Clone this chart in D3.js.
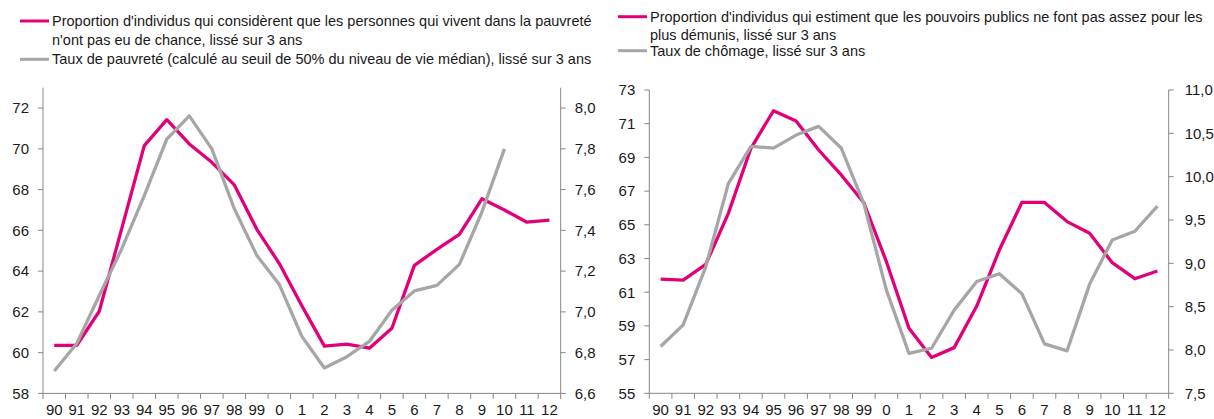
<!DOCTYPE html>
<html>
<head>
<meta charset="utf-8">
<script src="https://cdn.jsdelivr.net/npm/d3@7"></script>
<style>
  body { margin: 0; background: #fff; }
  svg { display: block; font-family: "Liberation Sans", Arial, sans-serif; }
</style>
</head>
<body>
<svg id="chart" width="1214" height="419"></svg>
<script>
const years = ["90", "91", "92", "93", "94", "95", "96", "97", "98", "99", "0", "1", "2", "3", "4", "5", "6", "7", "8", "9", "10", "11", "12"];

// left panel
const chanceShare = [60.36, 60.36, 62.03, 66.1, 70.16, 71.43, 70.24, 69.34, 68.23, 66.05, 64.37, 62.3, 60.32, 60.42, 60.22, 61.2, 64.28, 65.07, 65.8, 67.55, 67.0, 66.4, 66.5];
const povertyRate = [6.71, 6.845, 7.08, 7.31, 7.57, 7.848, 7.962, 7.80, 7.506, 7.277, 7.134, 6.88, 6.725, 6.78, 6.855, 7.008, 7.103, 7.13, 7.233, 7.49, 7.80, null, null];
const leftTicksA = [58, 60, 62, 64, 66, 68, 70, 72];
const leftTicksB = [6.6, 6.8, 7.0, 7.2, 7.4, 7.6, 7.8, 8.0];
const leftLegend = [
    "Proportion d'individus qui considèrent que les personnes qui vivent dans la pauvreté",
    "n'ont pas eu de chance, lissé sur 3 ans",
    "Taux de pauvreté (calculé au seuil de 50% du niveau de vie médian), lissé sur 3 ans"
];

// right panel
const publicShare = [61.78, 61.72, 62.65, 65.68, 69.54, 71.77, 71.16, 69.44, 67.96, 66.31, 62.81, 58.86, 57.13, 57.71, 60.18, 63.5, 66.33, 66.33, 65.19, 64.5, 62.75, 61.8, 62.26];
const unemployment = [8.04, 8.29, 8.96, 9.92, 10.35, 10.33, 10.48, 10.58, 10.33, 9.69, 8.69, 7.96, 8.02, 8.46, 8.79, 8.88, 8.65, 8.07, 7.99, 8.76, 9.27, 9.37, 9.66];
const rightTicksA = [55, 57, 59, 61, 63, 65, 67, 69, 71, 73];
const rightTicksB = [7.5, 8.0, 8.5, 9.0, 9.5, 10.0, 10.5, 11.0];
const rightLegend = [
    "Proportion d'individus qui estiment que les pouvoirs publics ne font pas assez pour les",
    "plus démunis, lissé sur 3 ans",
    "Taux de chômage, lissé sur 3 ans"
];

const pink = "#e2007a";
const grey = "#a6a6a6";
const axisColor = "#878787";

const fr = d3.formatLocale({ decimal: ",", thousands: " ", grouping: [3], currency: ["", "€"] });

const svg = d3.select("#chart");

function drawPanel(p) {
    const g = svg.append("g");

    const x = d3.scaleBand().domain(years).range([p.x0, p.x1]);
    const yA = d3.scaleLinear().domain(p.domainA).range([p.yBottom, p.yTop]);
    const yB = d3.scaleLinear().domain(p.domainB).range([p.yBottom, p.yTop]);

    // axis lines
    g.append("line")
        .attr("x1", p.x0).attr("x2", p.x0)
        .attr("y1", p.yTop).attr("y2", p.yBottom)
        .attr("stroke", axisColor).attr("stroke-width", 1);
    g.append("line")
        .attr("x1", p.x1).attr("x2", p.x1)
        .attr("y1", p.yTop).attr("y2", p.yBottom)
        .attr("stroke", axisColor).attr("stroke-width", 1);
    g.append("line")
        .attr("x1", p.x0).attr("x2", p.x1)
        .attr("y1", p.yBottom).attr("y2", p.yBottom)
        .attr("stroke", axisColor).attr("stroke-width", 1);

    // category tick marks at band edges
    const edges = years.map(d => x(d)).concat([p.x1]);
    g.selectAll(".xtick").data(edges).enter().append("line")
        .attr("x1", d => d).attr("x2", d => d)
        .attr("y1", p.yBottom).attr("y2", p.yBottom + 5.5)
        .attr("stroke", axisColor);

    g.selectAll(".xlabel").data(years).enter().append("text")
        .attr("x", d => x(d) + x.bandwidth() / 2)
        .attr("y", 415)
        .attr("text-anchor", "middle")
        .attr("font-size", 15)
        .attr("fill", "#1a1a1a")
        .text(d => d);

    // left value axis
    g.selectAll(".ytickA").data(p.ticksA).enter().append("line")
        .attr("x1", p.x0 - 5).attr("x2", p.x0)
        .attr("y1", d => yA(d)).attr("y2", d => yA(d))
        .attr("stroke", axisColor);
    g.selectAll(".ylabelA").data(p.ticksA).enter().append("text")
        .attr("x", p.x0 - 14)
        .attr("y", d => yA(d) + 5.3)
        .attr("text-anchor", "end")
        .attr("font-size", 15)
        .attr("fill", "#1a1a1a")
        .text(d => d);

    // right value axis
    g.selectAll(".ytickB").data(p.ticksB).enter().append("line")
        .attr("x1", p.x1).attr("x2", p.x1 + 5)
        .attr("y1", d => yB(d)).attr("y2", d => yB(d))
        .attr("stroke", axisColor);
    g.selectAll(".ylabelB").data(p.ticksB).enter().append("text")
        .attr("x", p.x1 + p.rightGap)
        .attr("y", d => yB(d) + 5.3)
        .attr("text-anchor", "start")
        .attr("font-size", 15)
        .attr("fill", "#1a1a1a")
        .text(d => fr.format(".1f")(d));

    // series
    const lineA = d3.line()
        .defined(d => d != null)
        .x((d, i) => x(years[i]) + x.bandwidth() / 2)
        .y(d => yA(d));
    const lineB = d3.line()
        .defined(d => d != null)
        .x((d, i) => x(years[i]) + x.bandwidth() / 2)
        .y(d => yB(d));

    g.append("path")
        .attr("d", lineA(p.seriesA))
        .attr("fill", "none")
        .attr("stroke", pink)
        .attr("stroke-width", 3.3)
        .attr("stroke-linejoin", "round");
    g.append("path")
        .attr("d", lineB(p.seriesB))
        .attr("fill", "none")
        .attr("stroke", grey)
        .attr("stroke-width", 3.3)
        .attr("stroke-linejoin", "round");

    // legend
    const lg = p.legend;
    g.append("line")
        .attr("x1", lg.x).attr("x2", lg.x + 29)
        .attr("y1", lg.swatchY[0]).attr("y2", lg.swatchY[0])
        .attr("stroke", pink).attr("stroke-width", 3);
    g.append("line")
        .attr("x1", lg.x).attr("x2", lg.x + 29)
        .attr("y1", lg.swatchY[1]).attr("y2", lg.swatchY[1])
        .attr("stroke", grey).attr("stroke-width", 3);

    p.legendText.forEach((t, i) => {
        g.append("text")
            .attr("x", lg.x + 32)
            .attr("y", lg.baselines[i])
            .attr("font-size", 14.5)
            .attr("fill", "#1a1a1a")
            .text(t);
    });
}

drawPanel({
    x0: 43, x1: 560.7, yTop: 87.7, yBottom: 393.4,
    domainA: [58, 73], domainB: [6.6, 8.1],
    ticksA: leftTicksA, ticksB: leftTicksB,
    seriesA: chanceShare, seriesB: povertyRate,
    rightGap: 14,
    legendText: leftLegend,
    legend: { x: 20, swatchY: [21, 59.3], baselines: [26, 45, 64] }
});

drawPanel({
    x0: 649.3, x1: 1168.7, yTop: 90, yBottom: 393.3,
    domainA: [55, 73], domainB: [7.5, 11],
    ticksA: rightTicksA, ticksB: rightTicksB,
    seriesA: publicShare, seriesB: unemployment,
    rightGap: 16,
    legendText: rightLegend,
    legend: { x: 618, swatchY: [16.7, 50.7], baselines: [22, 39.5, 56] }
});
</script>
</body>
</html>
